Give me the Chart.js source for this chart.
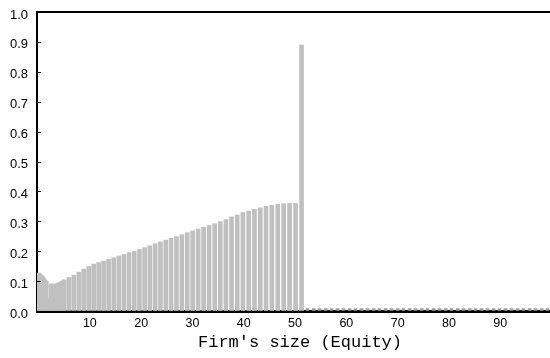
<!DOCTYPE html>
<html><head><meta charset="utf-8">
<script src="https://cdn.jsdelivr.net/npm/chart.js@4/dist/chart.umd.min.js"></script>
<style>html,body{margin:0;padding:0;background:#fff}</style>
</head><body>
<canvas id="c" width="550" height="358"></canvas>
<script>
// Early, densely sampled part of the distribution (firm size near 0)
const fineX = [-0.25,0,0.25,0.5,0.75,1,1.25,1.5,1.75,2,2.25,2.5,2.75,3,3.25,3.5,3.75,4,4.25,4.5,4.75];
const fineY = [0.127,0.127,0.127,0.124,0.120,0.115,0.110,0.104,0.099,0.040,0.090,0.090,0.090,0.090,0.090,0.092,0.094,0.095,0.098,0.100,0.104];
// Main bars
const barX = [5.01,5.95,6.90,7.86,8.81,9.77,10.74,11.72,12.69,13.66,14.66,15.65,16.65,17.64,18.66,19.67,20.68,21.70,22.73,23.76,24.80,25.83,26.88,27.93,28.99,30.04,31.11,32.18,33.25,34.35,35.44,36.53,37.62,38.73,39.84,40.96,42.09,43.22,44.35,45.48,46.63,47.78,48.93,50.10,51.27];
const barY = [0.104,0.112,0.120,0.130,0.140,0.149,0.157,0.162,0.167,0.173,0.178,0.184,0.189,0.195,0.200,0.206,0.212,0.218,0.225,0.231,0.237,0.243,0.249,0.255,0.262,0.268,0.274,0.280,0.286,0.292,0.299,0.306,0.315,0.321,0.329,0.334,0.340,0.345,0.350,0.354,0.357,0.359,0.360,0.360,0.889];
// Near-zero tail beyond the spike
const tailX = [52.44,53.61,54.78,55.95,57.12,58.28,59.45,60.62,61.79,62.96,64.13,65.30,66.47,67.64,68.81,69.98,71.15,72.32,73.49,74.66,75.83,77.00,78.17,79.34,80.51,81.68,82.85,84.02,85.19,86.35,87.52,88.69,89.86,91.03,92.20,93.37,94.54,95.71,96.88,98.05,99.22];
const tailY = [0.008,0.008,0.008,0.008,0.008,0.008,0.008,0.008,0.008,0.008,0.008,0.008,0.008,0.008,0.008,0.008,0.008,0.008,0.008,0.008,0.008,0.008,0.008,0.008,0.008,0.008,0.008,0.008,0.008,0.008,0.008,0.008,0.008,0.008,0.008,0.008,0.008,0.008,0.008,0.008,0.008];
const xTicks = [10,20,30,40,50,60,70,80,90];
const yTicks = [0,0.1,0.2,0.3,0.4,0.5,0.6,0.7,0.8,0.9,1.0];
const xTitle = "Firm's size (Equity)";

const pts = (xs, ys) => xs.map((x, i) => ({x: x, y: ys[i]}));
const BAR = '#c0c0c0';

const extras = {
  id: 'extras',
  afterDraw(chart) {
    const {ctx, chartArea: a, scales} = chart;
    ctx.save();
    ctx.strokeStyle = '#000';
    ctx.lineWidth = 2;
    ctx.beginPath(); ctx.moveTo(a.left - 1, a.top); ctx.lineTo(a.right, a.top); ctx.stroke();
    ctx.lineWidth = 1;
    yTicks.forEach(v => {
      const y = Math.round(scales.y.getPixelForValue(v)) + 0.5;
      ctx.beginPath(); ctx.moveTo(a.left, y); ctx.lineTo(a.left + 4, y); ctx.stroke();
    });
    ctx.fillStyle = '#000';
    ctx.font = '17px "Liberation Mono"';
    ctx.textAlign = 'center';
    ctx.textBaseline = 'alphabetic';
    ctx.fillText(xTitle, 300, 347);
    ctx.restore();
  }
};

new Chart(document.getElementById('c'), {
  type: 'bar',
  data: {
    datasets: [
      {data: pts(fineX, fineY), backgroundColor: BAR, barThickness: 1.6, grouped: false},
      {data: pts(barX, barY), backgroundColor: BAR, barThickness: 4, grouped: false},
      {data: pts(tailX, tailY), backgroundColor: '#9a9a9a', barThickness: 3, grouped: false}
    ]
  },
  options: {
    responsive: false,
    animation: false,
    devicePixelRatio: 1,
    layout: {padding: {top: 12, right: 0, left: 0, bottom: 0}},
    plugins: {legend: {display: false}, tooltip: {enabled: false}},
    scales: {
      x: {
        type: 'linear', min: -0.3, max: 99.7, offset: false,
        afterFit: s => { s.height = 47; s.paddingLeft = 0; s.paddingRight = 0; },
        afterBuildTicks: s => { s.ticks = xTicks.map(v => ({value: v})); },
        grid: {display: true, drawOnChartArea: false, drawTicks: false},
        border: {display: true, color: '#000', width: 3},
        ticks: {color: '#000', font: {family: '"Liberation Sans"', size: 12.5}, padding: 5, maxRotation: 0, autoSkip: false}
      },
      y: {
        min: 0, max: 1,
        afterFit: s => { s.width = 37; s.paddingTop = 0; s.paddingBottom = 0; },
        afterBuildTicks: s => { s.ticks = yTicks.map(v => ({value: v})); },
        grid: {display: true, drawOnChartArea: false, drawTicks: false},
        border: {display: true, color: '#000', width: 2},
        ticks: {color: '#000', font: {family: '"Liberation Sans"', size: 13}, padding: 9, labelOffset: 3,
                callback: v => Number(v).toFixed(1)}
      }
    }
  },
  plugins: [extras]
});
</script>
</body></html>
